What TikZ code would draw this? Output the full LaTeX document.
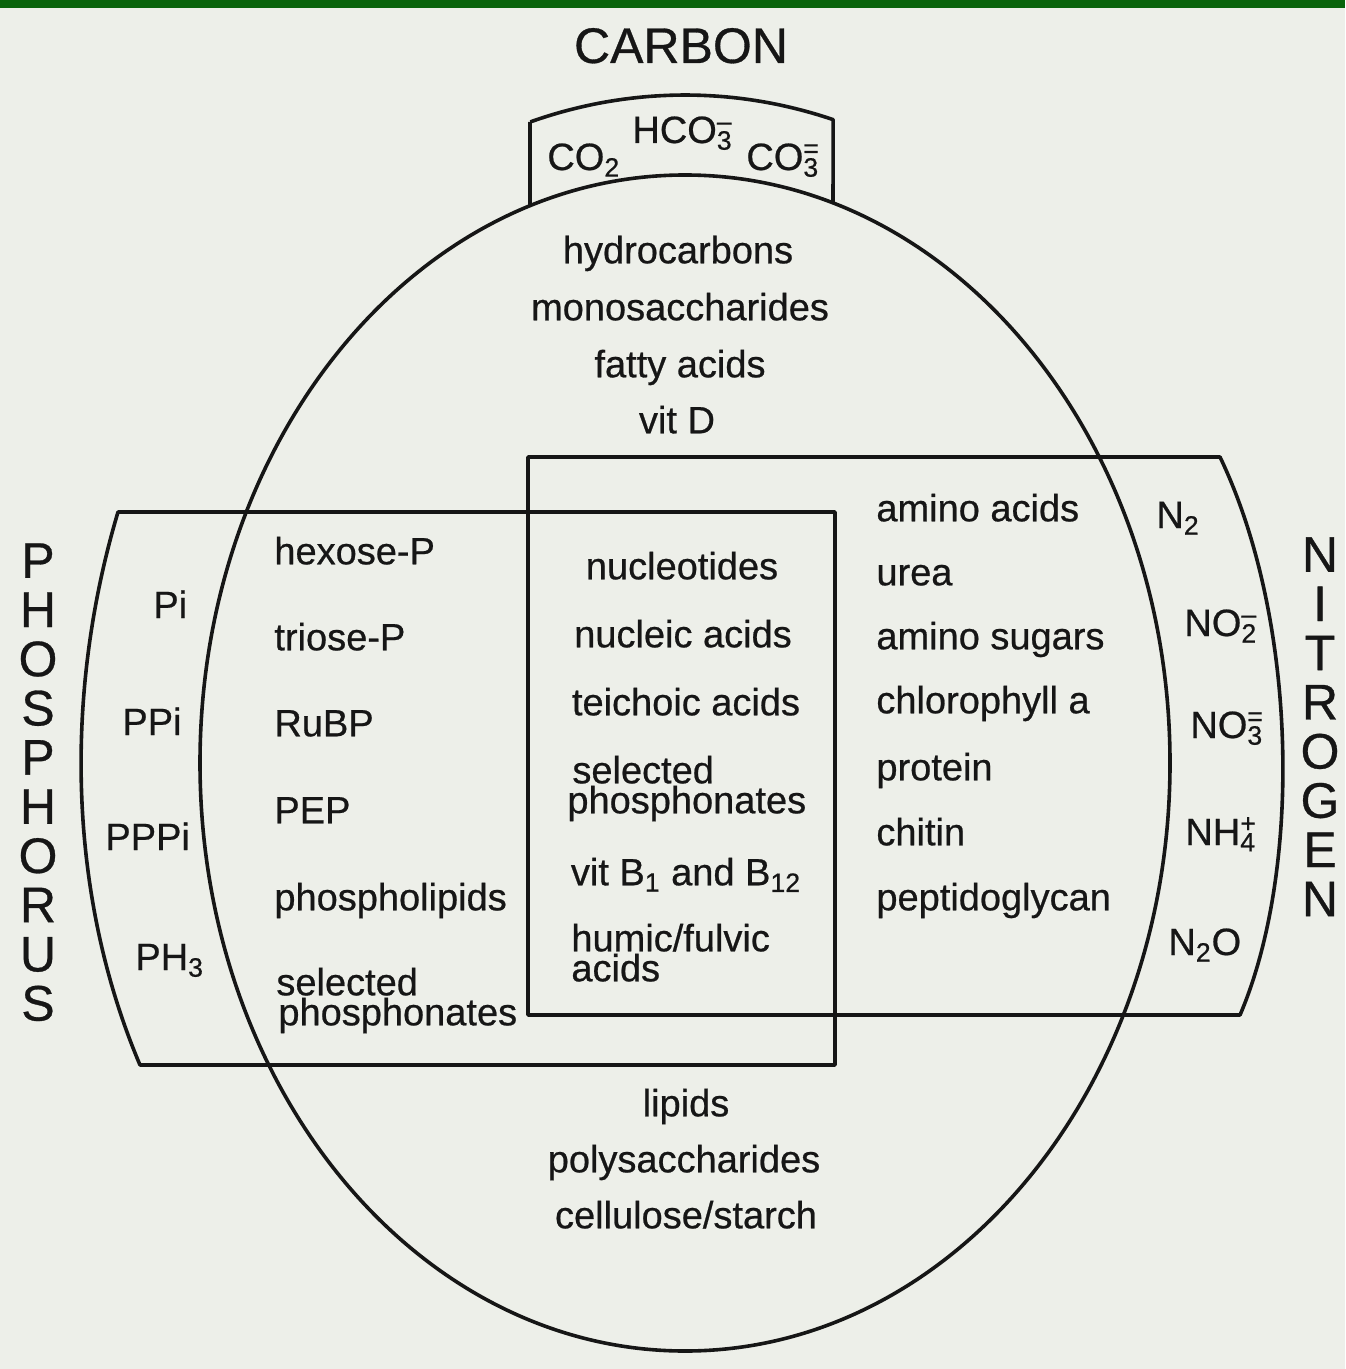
\documentclass[tikz,border=0pt]{standalone}
\usepackage{fontspec}
\setmainfont{Liberation Sans}[FakeBold=0.6]
\definecolor{paper}{RGB}{237,239,233}
\definecolor{ink}{RGB}{22,22,22}
\definecolor{topbar}{RGB}{10,100,12}
% formula with a superscript charge stacked over its subscript
\newcommand{\ionchem}[3]{#1\rlap{\textsuperscript{#3}}\textsubscript{#2}}

\begin{document}
\begin{tikzpicture}[x=0.5pt,y=-0.5pt,
  every node/.style={inner sep=0pt, text=ink},
  item/.style={font=\fontsize{19}{22}\selectfont},
  big/.style={font=\fontsize{25}{24.6}\selectfont},
  outline/.style={draw=ink, line width=1.8pt, line join=round}]

% page and top band
\useasboundingbox (0,0) rectangle (1345,1369);
\fill[paper] (0,0) rectangle (1345,1369);
\fill[topbar] (0,0) rectangle (1345,8);

% carbon: large ellipse with the inorganic cap on top
\draw[outline] (685,763) ellipse [x radius=242.5pt, y radius=294pt];
\draw[outline] (530,206) -- (530,122)
  plot[domain=106.3:74.4, samples=40] ({685+551*cos(\x)},{763-668*sin(\x)})
  -- (833,203);

% phosphorus region
\draw[outline] (835,512) -- (118,512) .. controls (62,700) and (70,900) .. (140,1065)
  -- (835,1065) -- cycle;

% nitrogen region
\draw[outline] (528,457) -- (1220,457) .. controls (1298,620) and (1302,870) .. (1240,1015)
  -- (528,1015) -- cycle;

% element names
\node[big, anchor=base] (carbon) at (681,63) {CARBON};
\node[big, align=center, anchor=north] (phosphorus) at (38,543)
  {P\\H\\O\\S\\P\\H\\O\\R\\U\\S};
\node[big, align=center, anchor=north] (nitrogen) at (1320,537)
  {N\\I\\T\\R\\O\\G\\E\\N};

% inorganic carbon
\node[item, anchor=base west] (co2) at (547,170) {\ionchem{CO}{2}{}};
\node[item, anchor=base west] (hco3) at (632,143) {\ionchem{HCO}{3}{--}};
\node[item, anchor=base west] (co3) at (746,170) {\ionchem{CO}{3}{=}};

% carbon only
\node[item, anchor=mid] (hydrocarbons) at (678,258) {hydrocarbons};
\node[item, anchor=mid] (monosacch) at (680,315) {monosaccharides};
\node[item, anchor=mid] (fatty) at (680,372) {fatty acids};
\node[item, anchor=mid] (vitd) at (677,428) {vit D};

\node[item, anchor=mid] (lipids) at (686,1111) {lipids};
\node[item, anchor=mid] (polysacch) at (684,1167) {polysaccharides};
\node[item, anchor=mid] (cellulose) at (686,1223) {cellulose/starch};

% inorganic phosphorus
\node[item, anchor=base west] (pi) at (153,618) {Pi};
\node[item, anchor=base west] (ppi) at (122,735) {PPi};
\node[item, anchor=base west] (pppi) at (105,850) {PPPi};
\node[item, anchor=base west] (ph3) at (135,970) {\ionchem{PH}{3}{}};

% carbon and phosphorus
\node[item, anchor=mid west] (hexose) at (274,559) {hexose-P};
\node[item, anchor=mid west] (triose) at (274,645) {triose-P};
\node[item, anchor=mid west] (rubp) at (274,731) {RuBP};
\node[item, anchor=mid west] (pep) at (274,818) {PEP};
\node[item, anchor=mid west] (phospholipids) at (274,905) {phospholipids};
\node[item, anchor=mid west] (selpa) at (276,990) {selected};
\node[item, anchor=mid west] (selpb) at (278,1020) {phosphonates};

% carbon, phosphorus and nitrogen
\node[item, anchor=mid] (nucleotides) at (682,574) {nucleotides};
\node[item, anchor=mid] (nucleic) at (683,642) {nucleic acids};
\node[item, anchor=mid] (teichoic) at (686,710) {teichoic acids};
\node[item, anchor=mid west] (selca) at (572,778) {selected};
\node[item, anchor=mid west] (selcb) at (567,808) {phosphonates};
\node[item, anchor=mid] (vitb) at (686,880) {vit B\textsubscript{1} and B\textsubscript{12}};
\node[item, anchor=mid west] (humic) at (571,946) {humic/fulvic};
\node[item, anchor=mid west] (humicb) at (571,976) {acids};

% carbon and nitrogen
\node[item, anchor=mid west] (amino) at (876,516) {amino acids};
\node[item, anchor=mid west] (urea) at (876,580) {urea};
\node[item, anchor=mid west] (aminosug) at (876,644) {amino sugars};
\node[item, anchor=mid west] (chloro) at (876,708) {chlorophyll a};
\node[item, anchor=mid west] (protein) at (876,775) {protein};
\node[item, anchor=mid west] (chitin) at (876,840) {chitin};
\node[item, anchor=mid west] (pepti) at (876,905) {peptidoglycan};

% inorganic nitrogen
\node[item, anchor=base west] (n2) at (1156,528) {\ionchem{N}{2}{}};
\node[item, anchor=base west] (no2) at (1184,636) {\ionchem{NO}{2}{--}};
\node[item, anchor=base west] (no3) at (1190,738) {\ionchem{NO}{3}{=}};
\node[item, anchor=base west] (nh4) at (1185,845) {\ionchem{NH}{4}{+}};
\node[item, anchor=base west] (n2o) at (1168,955) {N\textsubscript{2}O};
\end{tikzpicture}
\end{document}
